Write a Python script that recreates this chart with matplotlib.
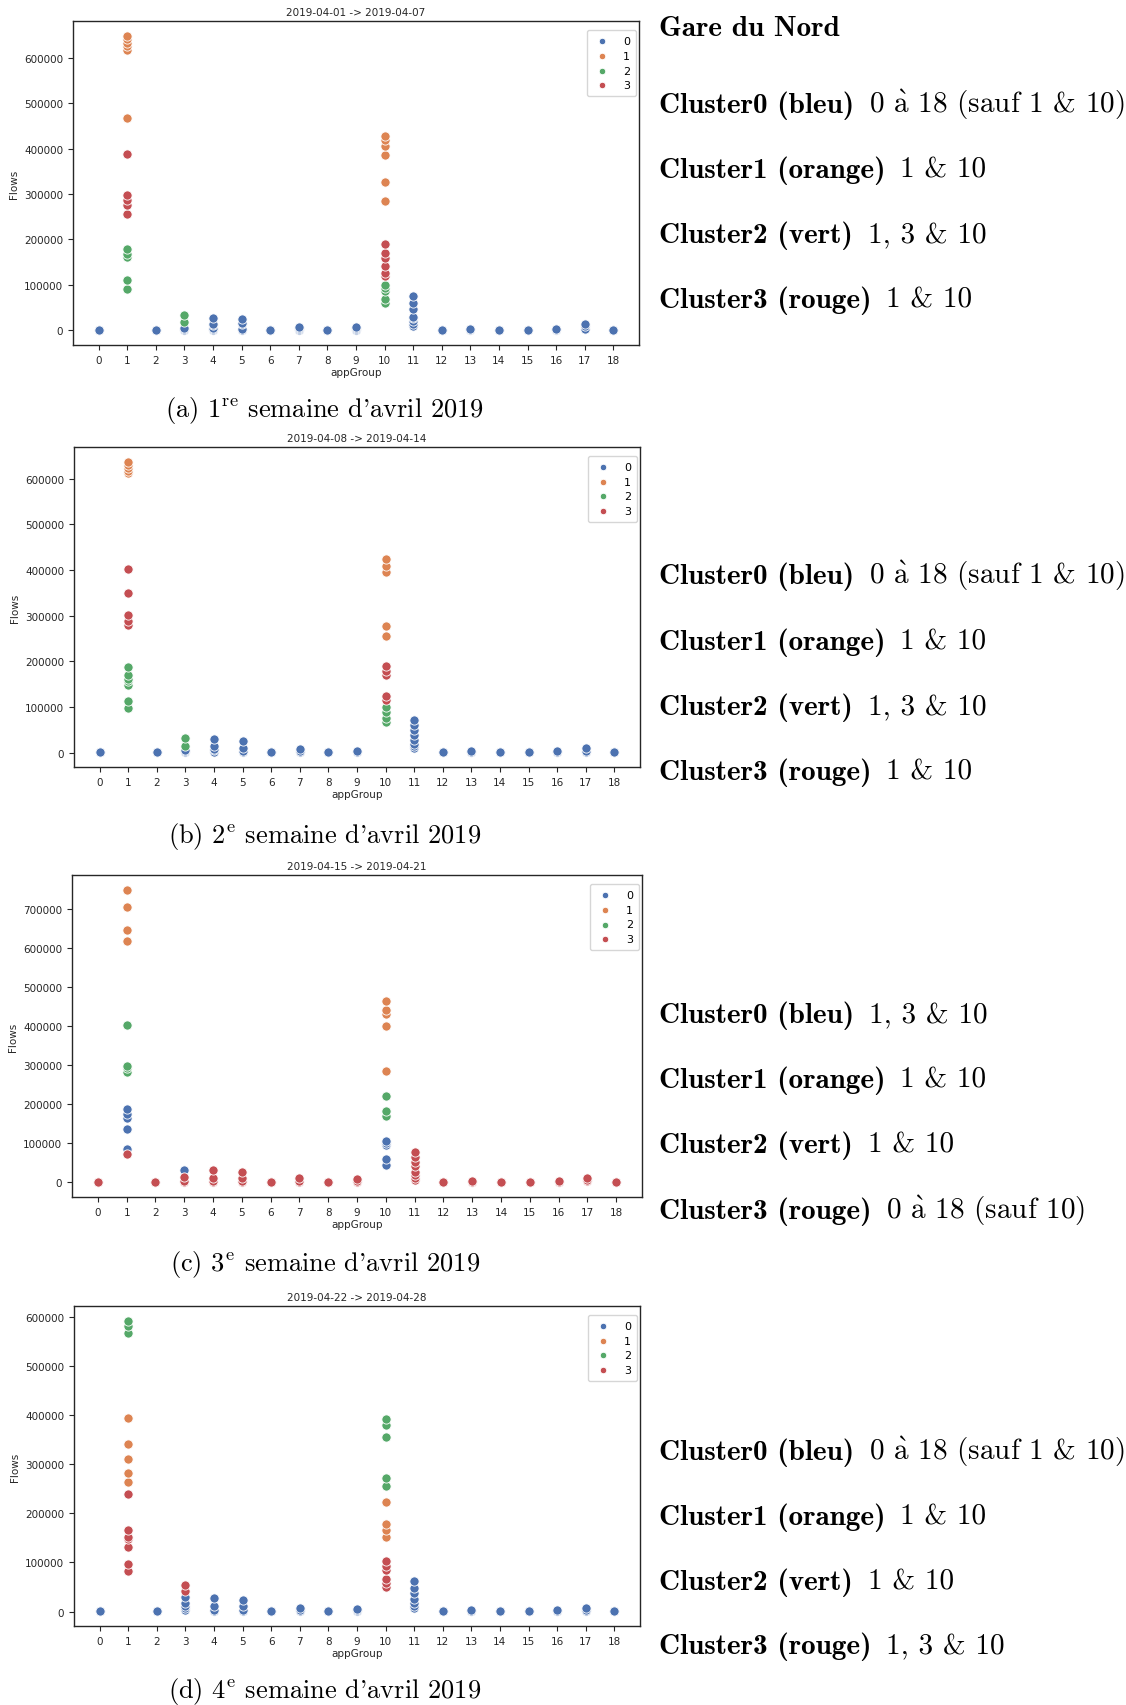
import matplotlib
matplotlib.use('Agg')
import matplotlib.pyplot as plt
from matplotlib.ticker import MultipleLocator

plt.rcParams['mathtext.fontset'] = 'cm'

W, H = 1126, 1706
deep = ['#4C72B0', '#DD8452', '#55A868', '#C44E52']

app_groups = list(range(19))
titles = ['2019-04-01 -> 2019-04-07', '2019-04-08 -> 2019-04-14',
          '2019-04-15 -> 2019-04-21', '2019-04-22 -> 2019-04-28']
captions = [r"(a) 1$^{\mathrm{re}}$ semaine d'avril 2019",
            r"(b) 2$^{\mathrm{e}}$ semaine d'avril 2019",
            r"(c) 3$^{\mathrm{e}}$ semaine d'avril 2019",
            r"(d) 4$^{\mathrm{e}}$ semaine d'avril 2019"]
note_names = ['Cluster0 (bleu)', 'Cluster1 (orange)', 'Cluster2 (vert)', 'Cluster3 (rouge)']
all_but_1_10 = r'0 $\grave{\mathrm{a}}$ 18 (sauf 1 & 10)'
notes_w1 = [all_but_1_10, '1 & 10', '1, 3 & 10', '1 & 10']
notes_w2 = [all_but_1_10, '1 & 10', '1, 3 & 10', '1 & 10']
notes_w3 = ['1, 3 & 10', '1 & 10', '1 & 10', r'0 $\grave{\mathrm{a}}$ 18 (sauf 10)']
notes_w4 = [all_but_1_10, '1 & 10', '1 & 10', '1, 3 & 10']

# flows per appGroup, one dict per cluster and week
low = [300, 800, 1400]
w1_c0 = {0: low, 2: low, 3: [1500, 3500, 6000], 4: [500, 2000, 5000, 12000, 14000, 28000],
         5: [1500, 4000, 13000, 16000, 25000], 6: low, 7: [1500, 3000, 5000, 8000], 8: low,
         9: [1500, 3000, 5000, 8000], 11: [9000, 13000, 20000, 27000, 30000, 46000, 61000, 75000],
         12: low, 13: [1000, 2000, 3000], 14: low, 15: low, 16: [1000, 2000, 3000],
         17: [2000, 4000, 10000, 13000], 18: low}
w1_c1 = {1: [468000, 617000, 625000, 632000, 640000, 648000],
         10: [284000, 326000, 386000, 405000, 419000, 427000]}
w1_c2 = {1: [92000, 110000, 162000, 168000, 180000], 3: [18000, 33000],
         10: [61000, 68000, 86000, 94000, 99000]}
w1_c3 = {1: [257000, 275000, 286000, 297000, 389000],
         10: [120000, 127000, 142000, 160000, 170000, 190000]}

w2_c0 = {0: low, 2: low, 3: [1500, 3000, 6000], 4: [2000, 5000, 8000, 14000, 30000],
         5: [1000, 3000, 10000, 25000], 6: low, 7: [1500, 3000, 8000], 8: low, 9: [2000, 3500],
         11: [10000, 14000, 18000, 28000, 39000, 50000, 61000, 72000], 12: low,
         13: [1000, 2000, 3000], 14: low, 15: low, 16: [1000, 2000, 3000],
         17: [2000, 4000, 10000], 18: low}
w2_c1 = {1: [613000, 618000, 624000, 631000, 638000], 10: [255000, 277000, 395000, 409000, 425000]}
w2_c2 = {1: [98000, 112000, 149000, 156000, 161000, 171000, 187000], 3: [15000, 32000],
         10: [66000, 76000, 90000, 101000]}
w2_c3 = {1: [280000, 288000, 301000, 349000, 403000], 10: [116000, 125000, 169000, 178000, 190000]}

w3_c0 = {1: [85000, 137000, 166000, 176000, 188000], 3: [32000],
         10: [45000, 60000, 95000, 101000, 107000]}
w3_c1 = {1: [617000, 647000, 704000, 749000], 10: [285000, 399000, 431000, 440000, 463000]}
w3_c2 = {1: [282000, 292000, 299000, 404000], 10: [171000, 182000, 222000]}
w3_c3 = {0: low, 1: [72000], 2: low, 3: [2000, 5000, 15000], 4: [2000, 5000, 11000, 31000],
         5: [1000, 3000, 12000, 26000], 6: low, 7: [2000, 5000, 11000], 8: low,
         9: [2000, 5000, 8000], 11: [7000, 12000, 18000, 28000, 43000, 52000, 65000, 78000],
         12: low, 13: [1000, 2000, 3000], 14: low, 15: low, 16: [1000, 2000, 3000],
         17: [3000, 7000, 11000], 18: low}

w4_c0 = {0: low, 2: low, 3: [4000, 7000, 12000, 18000, 30000], 4: [2000, 4000, 11000, 28000],
         5: [1500, 3000, 11000, 23000], 6: low, 7: [2000, 4000, 7000], 8: low,
         9: [2000, 3000, 6000], 11: [7000, 11000, 18000, 26000, 38000, 48000, 63000],
         12: low, 13: [1000, 2000, 3000], 14: low, 15: low, 16: [1000, 2000, 3000],
         17: [2000, 3000, 7000], 18: low}
w4_c1 = {1: [264000, 281000, 311000, 341000, 393000], 10: [152000, 165000, 179000, 223000]}
w4_c2 = {1: [567000, 581000, 592000], 10: [255000, 271000, 355000, 379000, 392000]}
w4_c3 = {1: [82000, 96000, 132000, 147000, 152000, 166000, 239000], 3: [41000, 55000],
         10: [50000, 58000, 67000, 85000, 92000, 103000]}

weeks = [[w1_c0, w1_c1, w1_c2, w1_c3], [w2_c0, w2_c1, w2_c2, w2_c3],
         [w3_c0, w3_c1, w3_c2, w3_c3], [w4_c0, w4_c1, w4_c2, w4_c3]]
notes = [notes_w1, notes_w2, notes_w3, notes_w4]

# pixel boxes (left, top, right, bottom)
boxes = [(73, 22, 639, 346), (74, 448, 640, 768), (72, 876, 642, 1198), (74, 1307, 640, 1627)]
caption_y = [411, 837, 1265, 1692]
# text baselines on the right
note_y = [[113, 178, 243, 308], [584, 650, 715, 780], [1023, 1088, 1153, 1219],
          [1460, 1525, 1590, 1654]]

fig = plt.figure(figsize=(W / 100, H / 100), dpi=100)
fs = 7.5
dark = '#262626'
rm = ['cmr10', 'DejaVu Serif']
bf = ['cmb10', 'DejaVu Serif']

for i, (l, t, r, b) in enumerate(boxes):
    ax = fig.add_axes([l / W, 1 - b / H, (r - l) / W, (b - t) / H])
    for k, pts in enumerate(weeks[i]):
        xs = [g for g, vals in pts.items() for v in vals]
        ys = [v for g, vals in pts.items() for v in vals]
        ax.scatter(xs, ys, s=44, color=deep[k], edgecolor='white', linewidth=0.6,
                   label=str(k), zorder=2)
    ax.set_xticks(app_groups)
    ax.yaxis.set_major_locator(MultipleLocator(100000))
    ax.tick_params(labelsize=fs, colors=dark, length=3.5, width=0.8, direction='out')
    for sp in ax.spines.values():
        sp.set_color(dark)
        sp.set_linewidth(1.0)
    ax.set_title(titles[i], fontsize=fs, color=dark, pad=4)
    ax.set_xlabel('appGroup', fontsize=fs, color=dark, labelpad=2)
    ax.set_ylabel('Flows', fontsize=fs, color=dark, labelpad=4)
    leg = ax.legend(loc='upper right', fontsize=8, markerscale=0.7, handletextpad=1.0,
                    borderpad=0.55, labelspacing=0.42, handlelength=1.7,
                    bbox_to_anchor=(0.995, 0.972), borderaxespad=0)
    leg.get_frame().set_edgecolor('0.8')

    fig.text(((l + r) / 2 - 32) / W, 1 - caption_y[i] / H, captions[i],
             family=rm, fontsize=19, ha='center', va='center')

renderer = fig.canvas.get_renderer()
fig.text(659 / W, 1 - 36 / H, 'Gare du Nord', family=bf, fontsize=21, va='baseline')
for i in range(4):
    for k in range(4):
        y = 1 - note_y[i][k] / H
        tb = fig.text(659 / W, y, note_names[k], family=bf, fontsize=21, va='baseline')
        x1 = tb.get_window_extent(renderer).x1
        fig.text((x1 + 15) / W, y, notes[i][k], family=rm, fontsize=21, va='baseline')

fig.savefig('out.png', dpi=100)
